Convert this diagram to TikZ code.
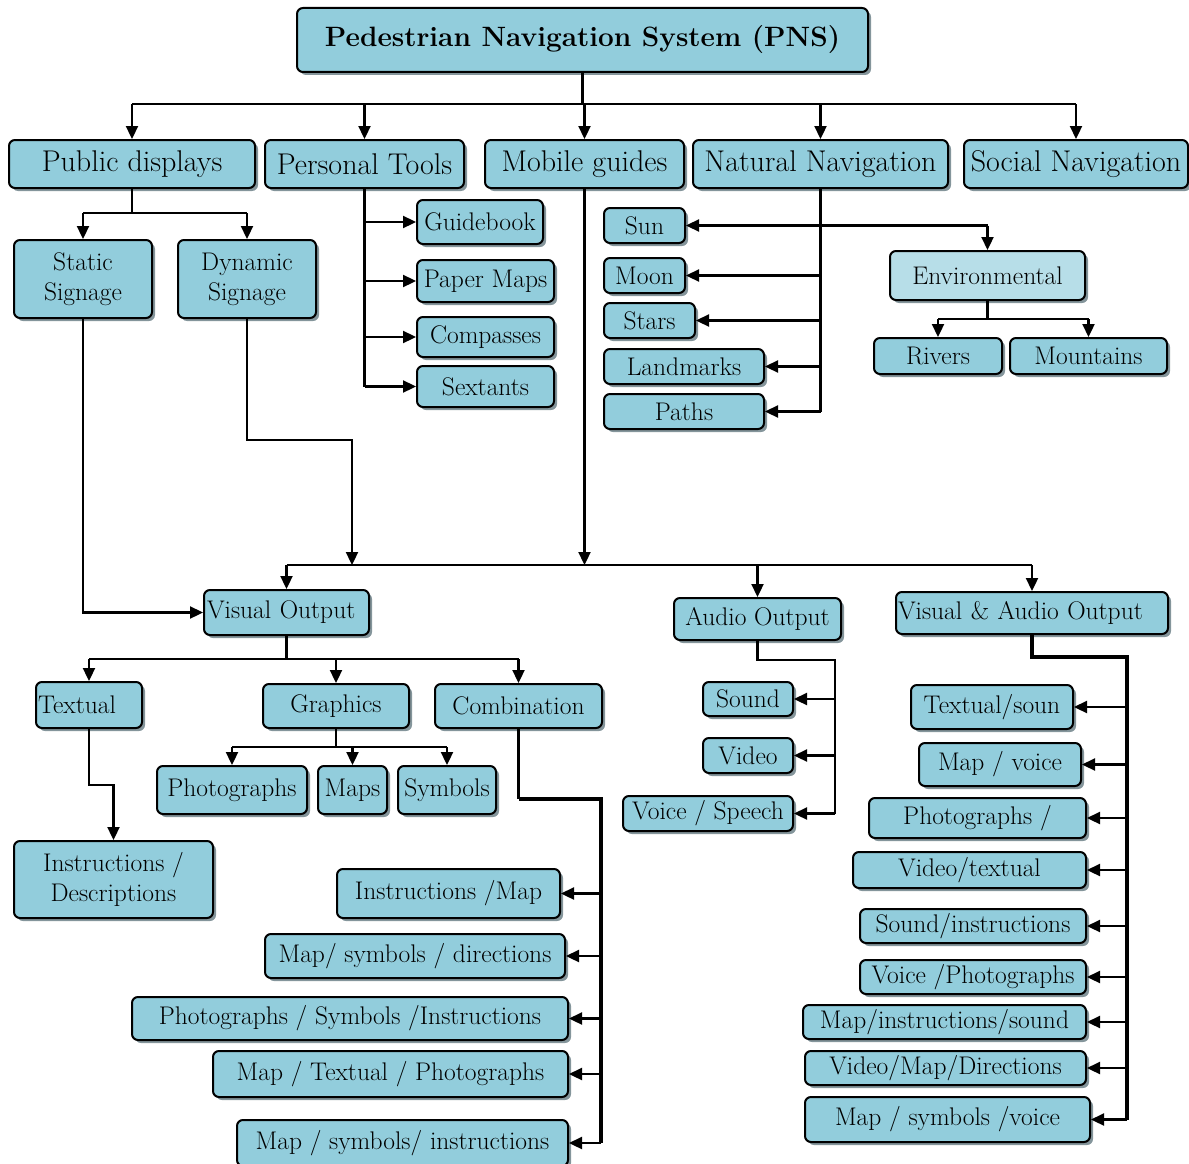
\documentclass[tikz,border=0pt]{standalone}
\usepackage{fontspec}
\usetikzlibrary{arrows.meta,shadows}
\definecolor{boxblue}{HTML}{92CDDC}
\definecolor{envblue}{HTML}{B7DEE8}
\definecolor{shadowgray}{HTML}{84959B}
\tikzset{
  box/.style={draw=black, line width=2pt, rounded corners=6pt, fill=boxblue, inner sep=0pt,
    drop shadow={shadow xshift=3pt, shadow yshift=-3pt, fill=shadowgray, opacity=1},
    font=\fontsize{25.5}{30}\selectfont, align=center},
  big/.style={font=\fontsize{30}{34}\selectfont},
  conn/.style={line width=2.3pt},
  thickconn/.style={line width=4.5pt},
  arr/.style={line width=2.3pt, -{Triangle[length=13pt,width=12pt]}},
}
\newcommand\bx[7][]{\node[box,minimum width={(#4-#2)*1pt},minimum height={(#5-#3)*1pt},#1] (#6) at ({(#2+#4)/2},{(#3+#5)/2}) {#7};}
\begin{document}
\begin{tikzpicture}[x=1pt,y=-1pt]
\useasboundingbox (0,0) rectangle (1189,1164);
% title
\bx[font=\bfseries\fontsize{28}{32}\selectfont]{297}{8}{868}{72}{pns}{Pedestrian Navigation System (PNS)}
% level 1
\bx[big]{9}{140}{255}{188}{pd}{Public displays}
\bx[big]{265}{140}{464}{188}{pt}{Personal Tools}
\bx[big]{485}{140}{684}{188}{mg}{Mobile guides}
\bx[big]{693}{140}{948}{188}{nn}{Natural Navigation}
\bx[big]{964}{140}{1188}{188}{sn}{Social Navigation}
% public displays
\bx{14}{240}{152}{318}{ss}{Static\\Signage}
\bx{178}{240}{316}{318}{ds}{Dynamic\\Signage}
% personal tools
\bx{417}{200}{543}{244}{guide}{Guidebook}
\bx{417}{260}{554}{302}{paper}{Paper Maps}
\bx{417}{317}{554}{357}{comp}{Compasses}
\bx{417}{366}{554}{407}{sext}{Sextants}
% natural navigation
\bx{604}{208}{685}{243}{sun}{Sun}
\bx{604}{258}{685}{293}{moon}{Moon}
\bx{604}{303}{695}{338}{stars}{Stars}
\bx{604}{349}{764}{384}{land}{Landmarks}
\bx{604}{394}{764}{429}{paths}{Paths}
\bx[fill=envblue]{890}{251}{1085}{300}{env}{Environmental}
\bx{874}{338}{1002}{374}{riv}{Rivers}
\bx{1010}{338}{1167}{374}{mount}{Mountains}
% outputs
\bx[text width=159pt,inner xsep=3pt,align=left]{204}{590}{369}{635}{vo}{Visual Output}
\bx{674}{598}{841}{640}{ao}{Audio Output}
\bx[text width=268pt,inner xsep=2pt,align=left]{896}{592}{1168}{634}{vao}{Visual \& Audio Output}
% visual output children
\bx[text width=102pt,inner xsep=2pt,align=left]{36}{682}{142}{728}{tex}{Textual}
\bx{263}{684}{409}{728}{gra}{Graphics}
\bx{435}{684}{602}{728}{comb}{Combination}
\bx{14}{841}{213}{918}{instd}{Instructions /\\Descriptions}
\bx{157}{766}{307}{814}{photo}{Photographs}
\bx{318}{766}{387}{814}{maps}{Maps}
\bx{398}{766}{496}{814}{sym}{Symbols}
% combination children
\bx{337}{869}{560}{918}{ca}{Instructions /Map}
\bx{265}{934}{565}{978}{cb}{Map/ symbols / directions}
\bx{132}{997}{568}{1040}{cc}{Photographs / Symbols /Instructions}
\bx{213}{1051}{568}{1097}{cd}{Map / Textual / Photographs}
\bx{237}{1120}{568}{1166}{ce}{Map / symbols/ instructions}
% audio children
\bx{703}{682}{793}{716}{sound}{Sound}
\bx{703}{738}{793}{773}{video}{Video}
\bx{623}{796}{793}{831}{voice}{Voice / Speech}
% visual & audio children
\bx{911}{685}{1073}{729}{va}{Textual/soun}
\bx{919}{743}{1081}{786}{vb}{Map / voice}
\bx{869}{798}{1086}{838}{vc}{Photographs /}
\bx{853}{852}{1086}{888}{vd}{Video/textual}
\bx{860}{909}{1086}{943}{ve}{Sound/instructions}
\bx{860}{960}{1086}{994}{vf}{Voice /Photographs}
\bx{803}{1005}{1086}{1039}{vg}{Map/instructions/sound}
\bx{805}{1051}{1086}{1085}{vh}{Video/Map/Directions}
\bx{805}{1097}{1090}{1142}{vi}{Map / symbols /voice}

% ---- connectors ----
\coordinate (tj) at (582.5,104);
\draw[conn] (pns.south) -- (tj);
\draw[conn] (pd.north |- tj) -- (sn.north |- tj);
\foreach \n in {pd,pt,mg,nn,sn} \draw[arr] (\n.north |- tj) -- (\n.north);

\coordinate (pdj) at (132,213);
\draw[conn] (pd.south) -- (pdj);
\draw[conn] (ss.north |- pdj) -- (ds.north |- pdj);
\foreach \n in {ss,ds} \draw[arr] (\n.north |- pdj) -- (\n.north);

\draw[conn] (pt.south) -- (pt.south |- sext.west);
\foreach \n in {guide,paper,comp,sext} \draw[arr] (pt.south |- \n.west) -- (\n.west);

\draw[conn] (nn.south) -- (nn.south |- paths.east);
\foreach \n in {sun,moon,stars,land,paths} \draw[arr] (nn.south |- \n.east) -- (\n.east);
\draw[conn] (nn.south |- sun.east) -- (env.north |- sun.east);
\draw[arr] (env.north |- sun.east) -- (env.north);

\coordinate (ej) at (987,319);
\draw[conn] (env.south) -- (env.south |- ej);
\draw[conn] (riv.north |- ej) -- (mount.north |- ej);
\foreach \n in {riv,mount} \draw[arr] (\n.north |- ej) -- (\n.north);

% to output level
\coordinate (bj) at (584.5,565);
\draw[arr] (mg.south) -- (bj);
\draw[conn] (vo.north |- bj) -- (vao.north |- bj);
\foreach \n in {vo,ao,vao} \draw[arr] (\n.north |- bj) -- (\n.north);
\draw[arr] (ss.south) |- (vo.west);
\coordinate (dj) at (352,565);
\draw[arr] (ds.south) |- (dj |- 0,440) -- (dj);

% visual output
\coordinate (vj) at (286.5,659);
\draw[conn] (vo.south) -- (vj);
\draw[conn] (tex.north |- vj) -- (comb.north |- vj);
\foreach \n in {tex,gra,comb} \draw[arr] (\n.north |- vj) -- (\n.north);
\draw[arr] (tex.south) |- (instd.north |- 0,785) -- (instd.north);
\coordinate (gj) at (336,747);
\draw[conn] (gra.south) -- (gj);
\draw[conn] (photo.north |- gj) -- (sym.north |- gj);
\foreach \n in {photo,maps,sym} \draw[arr] (\n.north |- gj) -- (\n.north);

% combination
\coordinate (cx) at (601,799);
\draw[conn] (comb.south) -- (comb.south |- cx);
\draw[thickconn] (comb.south |- cx) -- (cx) -- (cx |- ce.east);
\foreach \n in {ca,cb,cc,cd,ce} \draw[arr] (cx |- \n.east) -- (\n.east);

% audio
\coordinate (ax) at (835,660);
\draw[conn] (ao.south) |- (ax) -- (ax |- voice.east);
\foreach \n in {sound,video,voice} \draw[arr] (ax |- \n.east) -- (\n.east);

% visual & audio
\coordinate (vx) at (1127,657);
\draw[thickconn] (vao.south) |- (vx) -- (vx |- vi.east);
\foreach \n in {va,vb,vc,vd,ve,vf,vg,vh,vi} \draw[arr] (vx |- \n.east) -- (\n.east);
\end{tikzpicture}
\end{document}
